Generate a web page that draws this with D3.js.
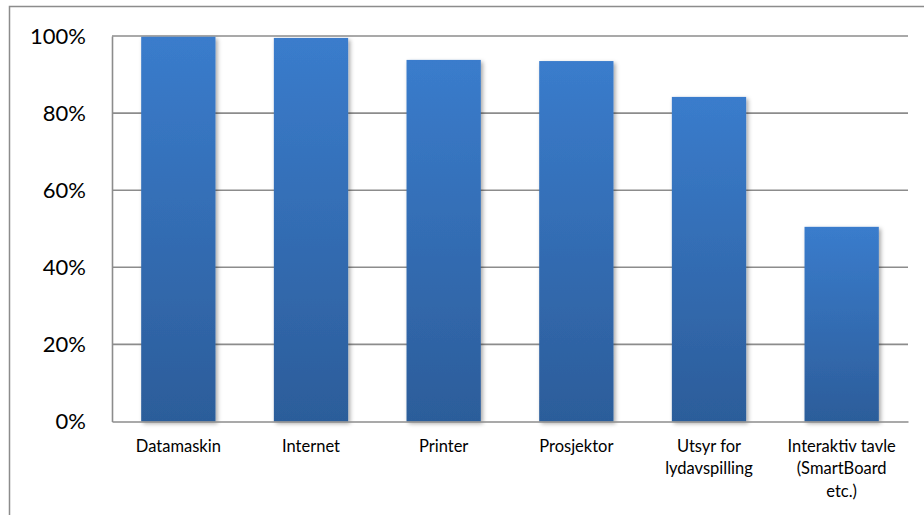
<!DOCTYPE html>
<html>
<head>
<meta charset="utf-8">
<script src="https://cdn.jsdelivr.net/npm/d3@7/dist/d3.min.js"></script>
<style>
  html, body { margin: 0; padding: 0; background: #fff; }
  svg { display: block; }
</style>
</head>
<body>
<svg id="chart" width="924" height="515"></svg>
<script>
// Share of schools with each kind of equipment
const categories = [
  ["Datamaskin"],
  ["Internet"],
  ["Printer"],
  ["Prosjektor"],
  ["Utsyr for", "lydavspilling"],
  ["Interaktiv tavle", "(SmartBoard", "etc.)"]
];
const values = [0.998, 0.995, 0.938, 0.935, 0.842, 0.505];
const yTicks = [0, 0.2, 0.4, 0.6, 0.8, 1.0];

const svg = d3.select("#chart");
const W = 924, H = 515;
const plot = { left: 112, right: 908, top: 36, bottom: 421.5 };

// outer chart frame
svg.append("rect")
  .attr("x", 9.5).attr("y", 6.5)
  .attr("width", W + 10).attr("height", H + 10)
  .attr("fill", "none").attr("stroke", "#8c8c8c").attr("stroke-width", 1.5);

const keys = categories.map(c => c.join(" "));
const x = d3.scaleBand().domain(keys).range([plot.left, plot.right]).paddingInner(0.44).paddingOuter(0.22);
const y = d3.scaleLinear().domain([0, 1]).range([plot.bottom, plot.top]);

const defs = svg.append("defs");
const grad = defs.append("linearGradient").attr("id", "barGrad")
  .attr("x1", 0).attr("y1", 0).attr("x2", 0).attr("y2", 1);
grad.append("stop").attr("offset", "0%").attr("stop-color", "#3a7ccc");
grad.append("stop").attr("offset", "100%").attr("stop-color", "#2c5d9a");

const shadow = defs.append("filter").attr("id", "barShadow")
  .attr("x", "-20%").attr("y", "-10%").attr("width", "150%").attr("height", "130%");
shadow.append("feDropShadow").attr("dx", 2).attr("dy", 2).attr("stdDeviation", 2.2)
  .attr("flood-color", "#000").attr("flood-opacity", 0.35);

// horizontal gridlines
svg.append("g").selectAll("line").data(yTicks.filter(t => t > 0)).join("line")
  .attr("x1", plot.left).attr("x2", plot.right)
  .attr("y1", d => y(d)).attr("y2", d => y(d))
  .attr("stroke", "#8c8c8c").attr("stroke-width", 1.6);

// bars
svg.append("g").selectAll("rect").data(values).join("rect")
  .attr("x", (d, i) => x(keys[i]))
  .attr("width", x.bandwidth())
  .attr("y", d => y(d))
  .attr("height", d => y(0) - y(d))
  .attr("fill", "url(#barGrad)")
  .attr("filter", "url(#barShadow)");

// y axis
const yAxis = svg.append("g")
  .attr("transform", `translate(${plot.left},0)`)
  .call(d3.axisLeft(y).tickValues(yTicks).tickFormat(d3.format(".0%")).tickSize(0).tickPadding(26));
yAxis.select(".domain").attr("stroke", "#8c8c8c").attr("stroke-width", 1.6);
yAxis.selectAll("text")
  .attr("font-family", "Lato, 'Open Sans', sans-serif")
  .attr("font-size", 22).attr("fill", "#000");

// x axis
const xAxis = svg.append("g")
  .attr("transform", `translate(0,${plot.bottom})`)
  .call(d3.axisBottom(x).tickSize(0).tickFormat(""));
xAxis.select(".domain").attr("stroke", "#8c8c8c").attr("stroke-width", 1.6);

xAxis.selectAll(".tick").each(function(d, i) {
  const t = d3.select(this).append("text")
    .attr("text-anchor", "middle")
    .attr("font-family", "Lato, 'Open Sans', sans-serif")
    .attr("font-size", 16.5).attr("fill", "#000");
  categories[i].forEach((line, j) => {
    t.append("tspan").attr("x", 0).attr("y", 30 + j * 22.5).text(line);
  });
});
</script>
</body>
</html>
